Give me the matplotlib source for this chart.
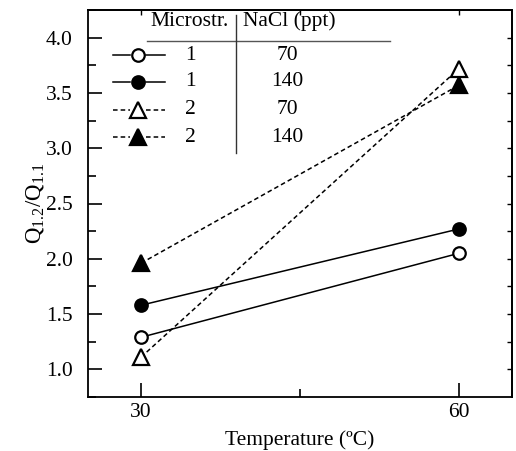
import matplotlib
matplotlib.use("Agg")
import matplotlib.pyplot as plt
from matplotlib.ticker import MultipleLocator, FixedLocator

plt.rcParams['font.family'] = ['Liberation Serif', 'DejaVu Serif']
plt.rcParams['mathtext.fontset'] = 'custom'
plt.rcParams['mathtext.rm'] = 'Liberation Serif'
plt.rcParams['mathtext.it'] = 'Liberation Serif:italic'

# Data
temperature = [30, 60]
microstr = ["1", "1", "2", "2"]
nacl = ["70", "140", "70", "140"]
q_m1_70 = [1.29, 2.05]
q_m1_140 = [1.58, 2.27]
q_m2_70 = [1.11, 3.72]
q_m2_140 = [1.96, 3.57]
series = [q_m1_70, q_m1_140, q_m2_70, q_m2_140]

dash = (0, (3, 2))
styles = [
    dict(ls='-', marker='o', mfc='white', ms=9),
    dict(ls='-', marker='o', mfc='black', ms=9),
    dict(ls=dash, marker='^', mfc='white', ms=12),
    dict(ls=dash, marker='^', mfc='black', ms=12),
]

W, H = 516, 451
fig = plt.figure(figsize=(W / 100, H / 100), dpi=100)
L, R, T, B = 88, 512, 10, 397
ax = fig.add_axes([L / W, 1 - B / H, (R - L) / W, (B - T) / H])

for ys, st in zip(series, styles):
    ax.plot(temperature, ys, color='black', lw=1.1, ls=st['ls'], marker=st['marker'],
            ms=st['ms'], mfc=st['mfc'], mec='black', mew=1.6, dash_capstyle='butt')

ax.set_xlim(25, 65)
ax.set_ylim(0.75, 4.25)
ax.xaxis.set_major_locator(FixedLocator(temperature))
ax.xaxis.set_minor_locator(FixedLocator([45]))
ax.yaxis.set_major_locator(MultipleLocator(0.5))
ax.yaxis.set_minor_locator(MultipleLocator(0.25))
ax.set_yticklabels([f"{v:.1f}" for v in ax.get_yticks()])
ax.tick_params(axis='both', which='major', direction='in', length=10, width=1.2,
               labelsize=15.5, top=False, right=False)
ax.tick_params(axis='both', which='minor', direction='in', length=5.8, width=1.2,
               top=False, right=False)
ax.tick_params(axis='y', which='major', pad=11)
ax.tick_params(axis='x', which='major', pad=4)

secx = ax.secondary_xaxis('top')
secx.set_xticks([30, 45, 60])
secx.tick_params(direction='in', length=3.5, width=1.0, labeltop=False)
secy = ax.secondary_yaxis('right')
secy.set_yticks([0.75 + 0.25 * i for i in range(1, 14)])
secy.tick_params(direction='in', length=3.5, width=1.0, labelright=False)

for sp in list(ax.spines.values()) + list(secx.spines.values()) + list(secy.spines.values()):
    sp.set_linewidth(1.3)

ax.set_xlabel("Temperature (ºC)", fontsize=15.5, labelpad=6)
ax.set_ylabel(r"$\mathrm{Q_{1.2}/Q_{1.1}}$", fontsize=16.5, labelpad=0)

# Custom table legend
def fx(x):
    return (x - L) / (R - L)

def fy(y):
    return (B - y) / (B - T)

tr = ax.transAxes
ax.text(fx(190), fy(21), "Microstr.", transform=tr, ha='center', va='center', fontsize=15.5)
ax.text(fx(289), fy(21), "NaCl (ppt)", transform=tr, ha='center', va='center', fontsize=15.5)
ax.plot([fx(147), fx(390)], [fy(41), fy(41)], transform=tr, color='#555555', lw=1.0, clip_on=False)
ax.plot([fx(236), fx(236)], [fy(15), fy(153)], transform=tr, color='#333333', lw=1.0, clip_on=False)
row_y = [55, 82, 110, 137]
for st, m, n, ry in zip(styles, microstr, nacl, row_y):
    ax.plot([fx(113), fx(130)], [fy(ry), fy(ry)], transform=tr, color='black', lw=1.1, ls=st['ls'],
            dash_capstyle='butt')
    ax.plot([fx(146), fx(165)], [fy(ry), fy(ry)], transform=tr, color='black', lw=1.1, ls=st['ls'],
            dash_capstyle='butt')
    ax.plot([fx(138)], [fy(ry)], transform=tr, color='black', marker=st['marker'], ms=st['ms'],
            mfc=st['mfc'], mec='black', mew=1.6, ls='none')
    ax.text(fx(190), fy(ry), m, transform=tr, ha='center', va='center', fontsize=15.5)
    ax.text(fx(287), fy(ry), n, transform=tr, ha='center', va='center', fontsize=15.5)

fig.savefig("out.png", dpi=100)
